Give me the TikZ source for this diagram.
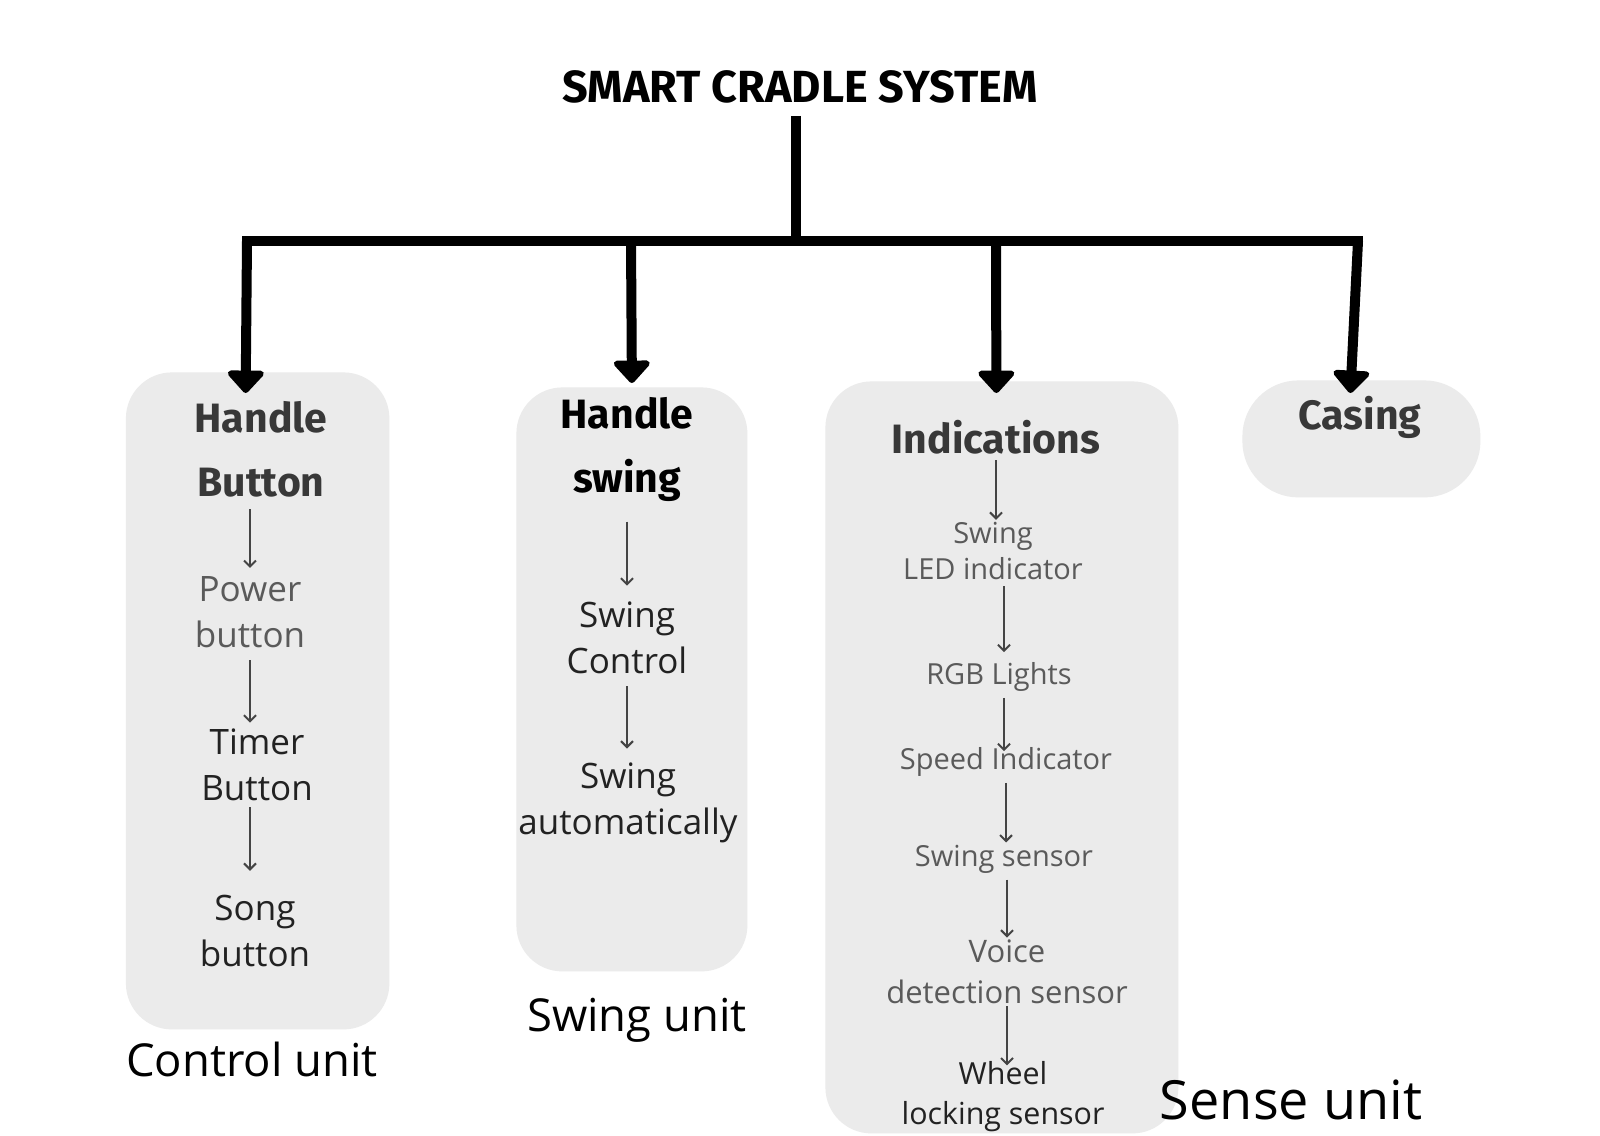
\documentclass[tikz,border=0pt]{standalone}
\usepackage{fontspec}
\setmainfont{Open Sans}
\newfontfamily\handfont{Fira Sans}
\usepackage{xcolor}
\usetikzlibrary{arrows.meta, positioning}
\definecolor{boxgray}{HTML}{EBEBEB}
\definecolor{headgray}{HTML}{383838}
\definecolor{itemgray}{HTML}{5A5A5A}
\definecolor{itemdark}{HTML}{222222}
\definecolor{arrgray}{HTML}{444444}

\begin{document}
\begin{tikzpicture}[
    x=0.5pt, y=-0.5pt,
    unitbox/.style={fill=boxgray, draw=none, inner sep=0pt, anchor=north west},
    head/.style={font=\handfont\bfseries\fontsize{20.5}{32}\selectfont, align=center, inner sep=0pt, text=headgray},
    item/.style={font=\fontsize{17.5}{23}\selectfont, align=center, inner sep=0pt, text=itemdark},
    sitem/.style={font=\fontsize{14.5}{18}\selectfont, align=center, inner sep=0pt, text=itemgray},
    unitlbl/.style={font=\fontsize{22.7}{26}\selectfont, inner sep=0pt, text=black},
    bar/.style={line width=5pt, black},
    bigarr/.style={line width=5pt, black, -{Triangle[round, length=12pt, width=21pt]}},
    sarr/.style={-{Straight Barb[length=3pt, width=6pt]}, line width=1pt, draw=arrgray, shorten <=3pt, shorten >=1pt}
]
\fill[white] (0,0) rectangle (1600,1135);
\useasboundingbox (0,0) rectangle (1600,1135);

% 1. Unit boxes
\node[unitbox, rounded corners=23pt, minimum width=131.75pt, minimum height=328.5pt] (ctlbox) at (125.5,372) {};
\node[unitbox, rounded corners=23pt, minimum width=115.5pt, minimum height=292pt] (swbox) at (516,387) {};
\node[unitbox, rounded corners=23pt, minimum width=176.5pt, minimum height=376pt] (senbox) at (825,381) {};
\node[unitbox, rounded corners=28pt, minimum width=119pt, minimum height=58.5pt] (casbox) at (1242,380) {};

% 2. Title & tree
\node[font=\handfont\bfseries\fontsize{22.5}{26}\selectfont, inner sep=0pt] (title) at (800,87) {SMART CRADLE SYSTEM};
\coordinate (hub) at (796,241);
\coordinate (drop1) at (247,241);
\coordinate (drop2) at (631,241);
\coordinate (drop3) at (996,241);
\coordinate (drop4) at (1358,241);

\draw[bar] ([yshift=-6pt]title.south -| hub) -- (hub);
\draw[bar, line cap=rect] (drop1) -- (drop4);
\draw[bigarr] (drop1) -- ([xshift=-6pt, yshift=-10.5pt]ctlbox.north);
\draw[bigarr] (drop2) -- ([yshift=2pt]swbox.north);
\draw[bigarr] (drop3) -- ([xshift=-2.75pt, yshift=-6pt]senbox.north);
\draw[bigarr] (drop4) -- ([xshift=-5.5pt, yshift=-6.5pt]casbox.north);

% 3. Control unit
\node[head] (hdlA) at (261,449) {Handle\\Button};
\node[item, text=itemgray] (power) at (250,612) {Power\\button};
\node[item] (timer) at (257,765) {Timer\\Button};
\node[item] (song) at (255,931) {Song\\button};
\node[unitlbl] (ctllbl) at (252,1059) {Control unit};

\draw[sarr, shorten <=6pt, shorten >=4pt] (power |- hdlA.south) -- (power.north);
\draw[sarr, shorten <=6pt, shorten >=3pt] (power |- power.south) -- (power |- timer.north);
\draw[sarr, shorten <=3pt, shorten >=12pt] (power |- timer.south) -- (power |- song.north);

% 4. Swing unit
\node[head, text=black] (hdlB) at (627,449) {Handle\\swing};
\node[item] (swctl) at (627,638) {Swing\\Control};
\node[item] (swauto) at (628,803) {Swing\\automatically};
\node[unitlbl] (swlbl) at (637,1020) {Swing unit};

\draw[sarr, shorten <=10pt, shorten >=8pt] (swctl |- hdlB.south) -- (swctl.north);
\draw[sarr, shorten <=6pt, shorten >=7pt] (swctl.south) -- (swctl |- swauto.north);

% 5. Sense unit
\node[head] (ind) at (996,437) {Indications};
\node[sitem] (led) at (993,551) {Swing\\LED indicator};
\node[sitem] (rgb) at (999,677) {RGB Lights};
\node[sitem] (speed) at (1006,762) {Speed Indicator};
\node[sitem] (swsens) at (1004,859) {Swing sensor};
\node[sitem, font=\fontsize{15.5}{20.5}\selectfont] (voice) at (1007,972) {Voice\\detection sensor};
\node[sitem, text=itemdark, font=\fontsize{15.2}{20}\selectfont] (wheel) at (1003,1097) {Wheel\\locking sensor};
\node[unitlbl, font=\fontsize{27}{30}\selectfont] (senlbl) at (1291,1100) {Sense unit};

\draw[sarr] (ind.south) -- (ind |- led.north);
\draw[sarr, shorten >=5pt] (swsens |- led.south) -- (swsens |- rgb.north);
\draw[sarr, shorten >=-2pt] (swsens |- rgb.south) -- (swsens |- speed.north);
\draw[sarr] (speed.south) -- (speed |- swsens.north);
\draw[sarr] (voice |- swsens.south) -- (voice.north);
\draw[sarr, shorten <=1pt, shorten >=-2pt] (voice.south) -- (voice |- wheel.north);

% 6. Casing
\node[head] (casing) at (1360,417) {Casing};

\end{tikzpicture}
\end{document}
